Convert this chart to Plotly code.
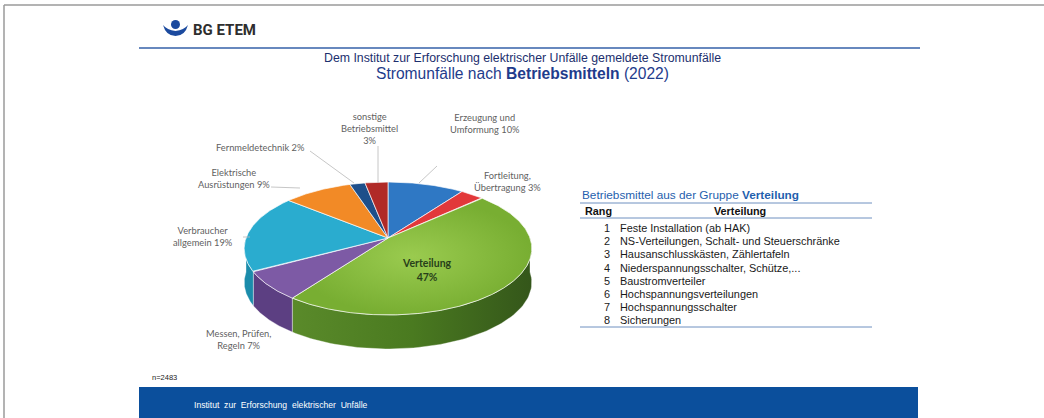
import numpy as np
import plotly.graph_objects as go

# ---------------- data ----------------
categories = ["Erzeugung und Umformung", "Fortleitung, Übertragung", "Verteilung",
              "Messen, Prüfen, Regeln", "Verbraucher allgemein", "Elektrische Ausrüstungen",
              "Fernmeldetechnik", "sonstige Betriebsmittel"]
values = [10, 3, 47, 7, 19, 9, 2, 3]
slice_labels = ["Erzeugung und<br>Umformung 10%", "Fortleitung,<br>Übertragung 3%",
                "<b>Verteilung<br>47%</b>", "Messen, Prüfen,<br>Regeln 7%",
                "Verbraucher<br>allgemein 19%", "Elektrische<br>Ausrüstungen 9%",
                "Fernmeldetechnik 2%", "sonstige<br>Betriebsmittel<br>3%"]
top_colors = ["#2f78c4", "#e2383a", "#86bb3e", "#7d5aa5", "#2aaccf", "#f28a26", "#1e4f8a", "#b02a27"]
side_colors = ["#215c9c", "#b02a2c", "#4c7c22", "#5c3f82", "#1b8cab", "#c66d18", "#173c69", "#86201e"]

rank = [1, 2, 3, 4, 5, 6, 7, 8]
rank_items = ["Feste Installation (ab HAK)", "NS-Verteilungen, Schalt- und Steuerschränke",
              "Hausanschlusskästen, Zählertafeln", "Niederspannungsschalter, Schütze,...",
              "Baustromverteiler", "Hochspannungsverteilungen", "Hochspannungsschalter",
              "Sicherungen"]
n_total = 2483

# ---------------- pie geometry (pixel space) ----------------
CX, CY, RX, RY, K, DEPTH = 388, 238, 142, 64.8, 0.158, 34


def proj(theta_deg, dz=0.0):
    th = np.radians(theta_deg)
    u = np.sin(th)
    v = -np.cos(th)
    s = 1.0 / (1.0 - K * v)
    return CX + RX * u * s, CY + RY * v * s + dz


fig = go.Figure()

total = float(sum(values))
angles = np.concatenate([[0], np.cumsum(values) / total * 360.0])

# side walls (visible front part: 90..270 deg clockwise from top)
for i in range(len(values)):
    a0, a1 = angles[i], angles[i + 1]
    s0, s1 = max(a0, 90), min(a1, 270)
    if s1 <= s0:
        continue
    t = np.linspace(s0, s1, 80)
    tx, ty = proj(t)
    bx, by = proj(t, DEPTH)
    xs = np.concatenate([tx, bx[::-1], tx[:1]])
    ys = np.concatenate([ty, by[::-1], ty[:1]])
    kw = {}
    if i == 2:
        kw["fillgradient"] = dict(type="horizontal",
                                  colorscale=[[0, "#5a8a2a"], [0.5, "#4a7a20"], [1, "#34561a"]])
    fig.add_trace(go.Scatter(x=xs, y=ys, mode="lines", fill="toself",
                             fillcolor=side_colors[i],
                             line=dict(color="rgba(255,255,255,0.6)", width=0.6),
                             hoverinfo="skip", **kw))

# top faces
for i in range(len(values)):
    a0, a1 = angles[i], angles[i + 1]
    t = np.linspace(a0, a1, max(8, int((a1 - a0) * 2)))
    tx, ty = proj(t)
    xs = np.concatenate([[CX], tx, [CX]])
    ys = np.concatenate([[CY], ty, [CY]])
    kw = {}
    if i == 2:
        kw["fillgradient"] = dict(type="radial",
                                  colorscale=[[0, "#9acb4f"], [1, "#78ae32"]])
    fig.add_trace(go.Scatter(x=xs, y=ys, mode="lines", fill="toself",
                             fillcolor=top_colors[i],
                             line=dict(color="rgba(255,255,255,0.85)", width=0.8),
                             hoverinfo="skip", **kw))

# leader lines
leaders = [((378, 146), (378, 183)), ((437, 166), (419, 183)), ((310, 151), (354, 183)),
           ((271, 187), (300, 188)), ((243, 237), (250, 237))]
for (p0, p1) in leaders:
    fig.add_trace(go.Scatter(x=[p0[0], p1[0]], y=[p0[1], p1[1]], mode="lines",
                             line=dict(color="#b8b8b8", width=0.8), hoverinfo="skip"))

# ---------------- annotations ----------------
ann = []
label_pos = [(485, 123), (507, 181), (427, 270), (238, 339), (203, 236), (234, 178), (260, 147), (369, 128)]
for i, (lx, ly) in enumerate(label_pos):
    col = "#27401a" if i == 2 else "#5f5f5f"
    size = 10.5 if i == 2 else 9.3
    ann.append(dict(x=lx, y=ly, xref="x", yref="y", text=slice_labels[i], showarrow=False,
                    font=dict(family="Lato, 'Open Sans', sans-serif", size=size, color=col),
                    align="center", xanchor="center", yanchor="middle"))

# titles
ann.append(dict(x=522, y=58, xref="x", yref="y", showarrow=False,
                text="Dem Institut zur Erforschung elektrischer Unfälle gemeldete Stromunfälle",
                font=dict(family="Liberation Sans, Arial", size=12.3, color="#1c2f6e"),
                xanchor="center", yanchor="middle"))
ann.append(dict(x=522, y=73, xref="x", yref="y", showarrow=False,
                text="Stromunfälle nach <b>Betriebsmitteln</b> (2022)",
                font=dict(family="Liberation Sans, Arial", size=15.6, color="#1f3c8c"),
                xanchor="center", yanchor="middle"))

# logo text
ann.append(dict(x=191, y=30, xref="x", yref="y", showarrow=False, text="<b>BG ETEM</b>",
                font=dict(family="Roboto, Liberation Sans", size=15, color="#2e2e2e"),
                xanchor="left", yanchor="middle"))

# table
ann.append(dict(x=580, y=195, xref="x", yref="y", showarrow=False,
                text="Betriebsmittel aus der Gruppe <b>Verteilung</b>",
                font=dict(family="Liberation Sans, Arial", size=11.8, color="#1f5fae"),
                xanchor="left", yanchor="middle"))
ann.append(dict(x=583, y=211, xref="x", yref="y", showarrow=False, text="<b>Rang</b>",
                font=dict(family="Liberation Sans, Arial", size=10.8, color="#111"),
                xanchor="left", yanchor="middle"))
ann.append(dict(x=740, y=211, xref="x", yref="y", showarrow=False, text="<b>Verteilung</b>",
                font=dict(family="Liberation Sans, Arial", size=10.8, color="#111"),
                xanchor="center", yanchor="middle"))
row_y0, row_dy = 228, 13.2
for j, (r, item) in enumerate(zip(rank, rank_items)):
    yy = row_y0 + j * row_dy
    ann.append(dict(x=612, y=yy, xref="x", yref="y", showarrow=False, text=str(r),
                    font=dict(family="Liberation Sans, Arial", size=10.9, color="#1a1a1a"),
                    xanchor="right", yanchor="middle"))
    ann.append(dict(x=618, y=yy, xref="x", yref="y", showarrow=False, text=item,
                    font=dict(family="Liberation Sans, Arial", size=10.9, color="#1a1a1a"),
                    xanchor="left", yanchor="middle"))

# n and footer
ann.append(dict(x=150, y=377, xref="x", yref="y", showarrow=False, text=f"n={n_total}",
                font=dict(family="Liberation Sans", size=7.5, color="#222"),
                xanchor="left", yanchor="middle"))
ann.append(dict(x=192, y=405, xref="x", yref="y", showarrow=False,
                text="Institut  zur  Erforschung  elektrischer  Unfälle",
                font=dict(family="Liberation Sans", size=8.6, color="#ffffff"),
                xanchor="left", yanchor="middle"))

# ---------------- shapes ----------------
shapes = [
    # frame
    dict(type="line", xref="x", yref="y", x0=4, x1=4, y0=5, y1=418, line=dict(color="#9a9a9a", width=1.5)),
    dict(type="line", xref="x", yref="y", x0=4, x1=1044, y0=5, y1=5, line=dict(color="#9a9a9a", width=1.5)),
    # header rule
    dict(type="line", xref="x", yref="y", x0=139, x1=920, y0=48, y1=48, line=dict(color="#3560a8", width=1.6)),
    # footer banner
    dict(type="rect", xref="x", yref="y", x0=139, x1=918, y0=387, y1=420, fillcolor="#0b4f9c",
         line=dict(width=0)),
    # table rules
    dict(type="line", xref="x", yref="y", x0=580, x1=872, y0=203, y1=203, line=dict(color="#6f90c0", width=1)),
    dict(type="line", xref="x", yref="y", x0=580, x1=872, y0=218, y1=218, line=dict(color="#6f90c0", width=1)),
    dict(type="line", xref="x", yref="y", x0=580, x1=872, y0=327, y1=327, line=dict(color="#6f90c0", width=1)),
    # logo
    dict(type="circle", xref="x", yref="y", x0=171, x1=180, y0=20, y1=29, fillcolor="#1b4a9e",
         line=dict(width=0)),
    dict(type="path", xref="x", yref="y",
         path="M 163 25 Q 166 36 175.5 36 Q 185 36 188 25 Q 184 30 175.5 31 Q 167 30 163 25 Z",
         fillcolor="#1b4a9e", line=dict(width=0)),
]

fig.update_layout(
    width=1044, height=418,
    margin=dict(l=0, r=0, t=0, b=0),
    paper_bgcolor="white", plot_bgcolor="white",
    showlegend=False,
    xaxis=dict(range=[0, 1044], visible=False, fixedrange=True),
    yaxis=dict(range=[418, 0], visible=False, fixedrange=True),
    annotations=ann,
    shapes=shapes,
)

fig.write_html("out.html", config={"displayModeBar": False},
               post_script="document.body.style.margin='0';document.body.style.overflow='hidden';")
